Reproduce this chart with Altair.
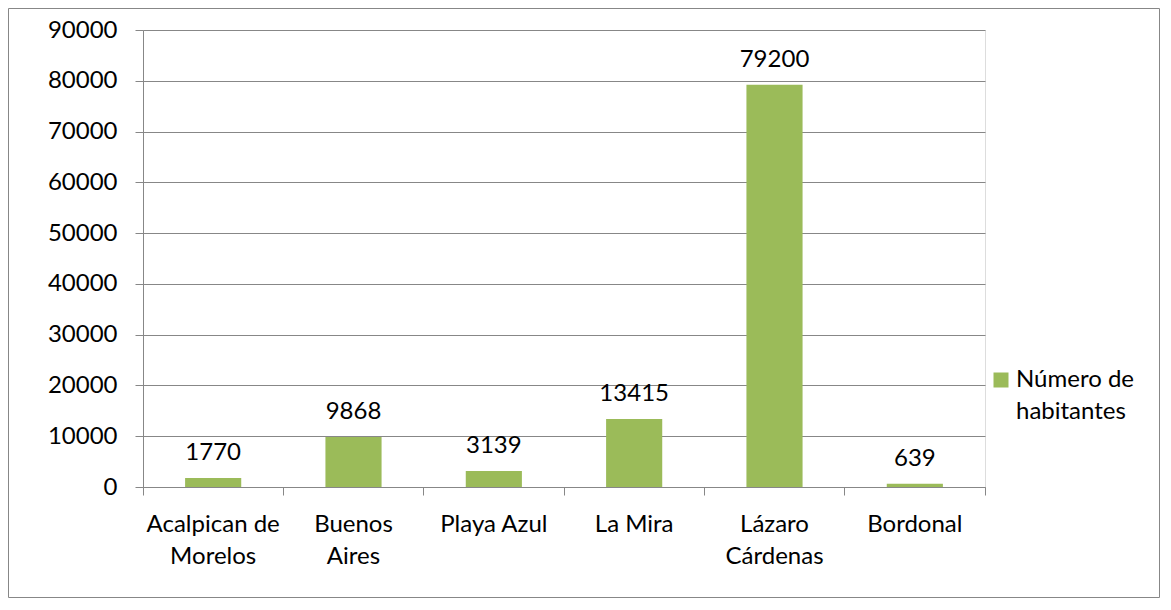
import altair as alt
import pandas as pd

# ---- data ----
categories = ["Acalpican de\nMorelos", "Buenos\nAires", "Playa Azul", "La Mira", "Lázaro\nCárdenas", "Bordonal"]
values = [1770, 9868, 3139, 13415, 79200, 639]
series_name = "Número de\nhabitantes"
y_ticks = [0, 10000, 20000, 30000, 40000, 50000, 60000, 70000, 80000, 90000]

df = pd.DataFrame({"lugar": categories, "habitantes": values, "serie": [series_name] * len(values)})

FONT = "Lato"
FS = 24
GRAY = "#878787"
GREEN = "#9BBB59"
W, H = 842, 457
PAD = {"left": 135, "top": 22, "right": 175, "bottom": 111}

x_enc = alt.X(
    "lugar:N",
    sort=categories,
    scale=alt.Scale(paddingInner=0, paddingOuter=0),
    axis=alt.Axis(
        title=None, labelAngle=0, bandPosition=1, tickExtra=True,
        labelExpr="split(datum.label, '\\n')", labelLineHeight=32,
        labelFont=FONT, labelFontSize=FS, labelColor="#000000",
        labelBaseline="top", labelPadding=17,
        tickSize=8, tickColor=GRAY, domainColor=GRAY, grid=False,
    ),
)
y_enc = alt.Y(
    "habitantes:Q",
    scale=alt.Scale(domain=[0, 90000], nice=False),
    axis=alt.Axis(
        title=None, values=y_ticks, format="d",
        labelFont=FONT, labelFontSize=FS, labelColor="#000000", labelPadding=18,
        tickSize=8, tickColor=GRAY, domainColor=GRAY,
        grid=True, gridColor=GRAY, gridWidth=1,
    ),
)

border = alt.Chart(pd.DataFrame({"b": [0]})).mark_rect(
    fill="transparent", stroke=GRAY, strokeWidth=1
).encode(
    x=alt.value(-PAD["left"] + 0.5),
    x2=alt.value(W + PAD["right"] - 0.5),
    y=alt.value(-PAD["top"] + 0.5),
    y2=alt.value(H + PAD["bottom"] - 0.5),
)

bars = alt.Chart(df).mark_bar(width=alt.RelativeBandSize(0.4)).encode(
    x=x_enc,
    y=y_enc,
    color=alt.Color(
        "serie:N",
        scale=alt.Scale(range=[GREEN]),
        legend=alt.Legend(
            title=None, orient="none", legendX=846, legendY=338,
            symbolType="square", symbolSize=225, symbolStrokeWidth=0,
            labelExpr="split(datum.label, '\\n')",
            labelFont=FONT, labelFontSize=FS, labelColor="#000000",
            labelOffset=3, labelLimit=300, padding=0,
        ),
    ),
)

labels = alt.Chart(df).mark_text(
    dy=-18, baseline="alphabetic", font=FONT, fontSize=FS, color="#000000"
).encode(
    x=alt.X("lugar:N", sort=categories),
    y="habitantes:Q",
    text=alt.Text("habitantes:Q", format="d"),
)

chart = alt.layer(border, bars, labels).properties(
    width=W, height=H,
    autosize=alt.AutoSizeParams(type="none"),
    padding=PAD,
    background="white",
).configure_view(stroke=None).configure(style={"guide-label": {"lineHeight": 32}})

chart.save("out.html", embed_options={"renderer": "svg", "actions": False})
